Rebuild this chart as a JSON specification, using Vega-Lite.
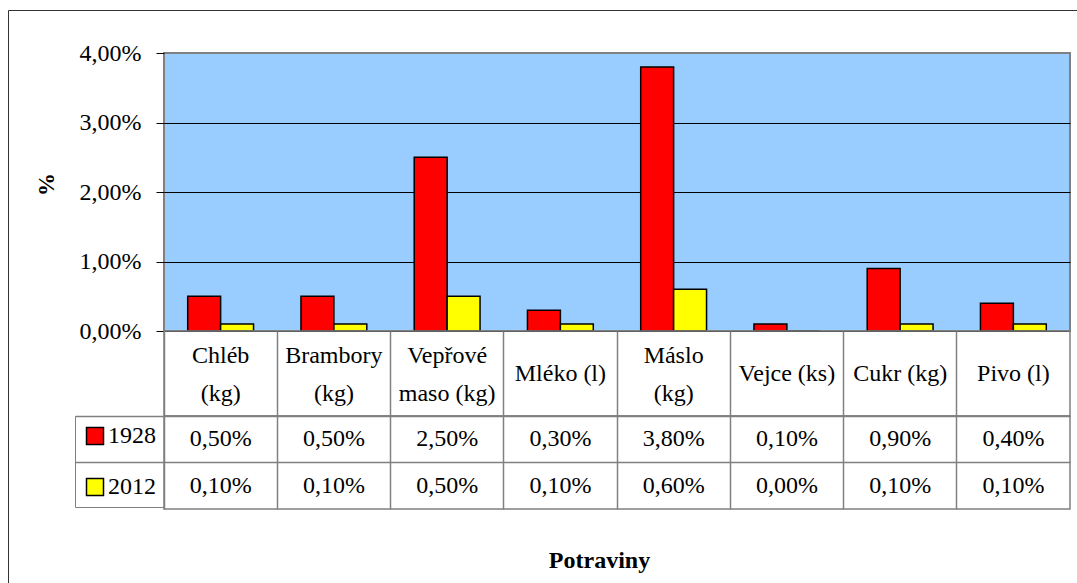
{
  "$schema": "https://vega.github.io/schema/vega-lite/v6.json",
  "background": "white",
  "autosize": {"type": "none"},
  "padding": {"left": 164, "top": 53, "right": 908, "bottom": 530},
  "bounds": "flush",
  "spacing": 0,
  "config": {
    "locale": {"number": {"decimal": ",", "thousands": " ", "grouping": [3], "currency": ["", " Kč"]}},
    "font": "Times New Roman, Liberation Serif, serif",
    "text": {"font": "Times New Roman, Liberation Serif, serif"},
    "view": {"stroke": "#808080", "strokeWidth": 1.5},
    "axis": {"labelColor": "black", "titleColor": "black", "labelFont": "Times New Roman, Liberation Serif, serif", "titleFont": "Times New Roman, Liberation Serif, serif"},
    "legend": {"labelFont": "Times New Roman, Liberation Serif, serif"}
  },
  "resolve": {"scale": {"x": "independent", "y": "independent", "fill": "independent"}, "legend": {"fill": "independent"}},
  "datasets": {
    "d": [
      {"cat": "Chléb (kg)", "year": "1928", "value": 0.005},
      {"cat": "Chléb (kg)", "year": "2012", "value": 0.001},
      {"cat": "Brambory (kg)", "year": "1928", "value": 0.005},
      {"cat": "Brambory (kg)", "year": "2012", "value": 0.001},
      {"cat": "Vepřové maso (kg)", "year": "1928", "value": 0.025},
      {"cat": "Vepřové maso (kg)", "year": "2012", "value": 0.005},
      {"cat": "Mléko (l)", "year": "1928", "value": 0.003},
      {"cat": "Mléko (l)", "year": "2012", "value": 0.001},
      {"cat": "Máslo (kg)", "year": "1928", "value": 0.038},
      {"cat": "Máslo (kg)", "year": "2012", "value": 0.006},
      {"cat": "Vejce (ks)", "year": "1928", "value": 0.001},
      {"cat": "Vejce (ks)", "year": "2012", "value": 0.0},
      {"cat": "Cukr (kg)", "year": "1928", "value": 0.009},
      {"cat": "Cukr (kg)", "year": "2012", "value": 0.001},
      {"cat": "Pivo (l)", "year": "1928", "value": 0.004},
      {"cat": "Pivo (l)", "year": "2012", "value": 0.001}
    ],
    "h": [
      {"cat": "Chléb (kg)", "label": "Chléb\n(kg)"},
      {"cat": "Brambory (kg)", "label": "Brambory\n(kg)"},
      {"cat": "Vepřové maso (kg)", "label": "Vepřové\nmaso (kg)"},
      {"cat": "Mléko (l)", "label": "Mléko (l)"},
      {"cat": "Máslo (kg)", "label": "Máslo\n(kg)"},
      {"cat": "Vejce (ks)", "label": "Vejce (ks)"},
      {"cat": "Cukr (kg)", "label": "Cukr (kg)"},
      {"cat": "Pivo (l)", "label": "Pivo (l)"}
    ]
  },
  "vconcat": [
    {
      "width": 906,
      "height": 278,
      "data": {"name": "d"},
      "view": {"fill": "#99CCFF", "stroke": "#808080", "strokeWidth": 2},
      "mark": {"type": "bar", "stroke": "black", "strokeWidth": 1.5},
      "encoding": {
        "x": {"field": "cat", "type": "nominal", "sort": null,
              "scale": {"type": "band", "domain": ["Chléb (kg)", "Brambory (kg)", "Vepřové maso (kg)", "Mléko (l)", "Máslo (kg)", "Vejce (ks)", "Cukr (kg)", "Pivo (l)"], "paddingInner": 0, "paddingOuter": 0}, "axis": null},
        "xOffset": {"field": "year", "type": "nominal", "scale": {"paddingOuter": 0.72, "paddingInner": 0}},
        "y": {
          "field": "value", "type": "quantitative",
          "scale": {"domain": [0, 0.04], "nice": false},
          "axis": {
            "values": [0, 0.01, 0.02, 0.03, 0.04],
            "format": ".2%",
            "title": "%",
            "titleFontSize": 23,
            "titleFontWeight": "bold",
            "titleX": -118,
            "titleY": 131,
            "titleBaseline": "middle",
            "titleAlign": "center",
            "labelFontSize": 24,
            "labelPadding": 15,
            "tickSize": 8,
            "tickColor": "black",
            "domain": false,
            "grid": true,
            "gridColor": {"condition": {"test": "datum.value >= 0.04", "value": "#808080"}, "value": "black"},
            "gridWidth": 1
          }
        },
        "fill": {"field": "year", "type": "nominal", "scale": {"domain": ["1928", "2012"], "range": ["#FF0000", "#FFFF00"]}, "legend": null},
        "strokeDash": {
          "datum": "rámeček", "type": "nominal",
          "scale": {"range": [[1, 0]]},
          "legend": {
            "orient": "none", "legendX": -156, "legendY": -43, "title": null,
            "padding": 900, "strokeColor": "#333333",
            "symbolOpacity": 0, "labelOpacity": 0, "symbolSize": 1, "labelFontSize": 1, "labelExpr": "''"
          }
        }
      }
    },
    {
      "width": 906,
      "height": 85,
      "data": {"name": "h"},
      "encoding": {
        "x": {"field": "cat", "type": "nominal", "sort": null,
              "scale": {"type": "band", "domain": ["Chléb (kg)", "Brambory (kg)", "Vepřové maso (kg)", "Mléko (l)", "Máslo (kg)", "Vejce (ks)", "Cukr (kg)", "Pivo (l)"], "paddingInner": 0, "paddingOuter": 0},
              "axis": {"title": null, "labels": false, "ticks": false, "domain": false, "grid": true, "bandPosition": 0, "gridColor": "#808080", "gridWidth": 1.5}},
        "text": {"field": "label"}
      },
      "layer": [
        {
          "transform": [{"filter": "indexof(datum.label, '\\n') >= 0"}],
          "mark": {"type": "text", "fontSize": 24, "lineBreak": "\n", "lineHeight": 38, "dy": -18, "color": "black"}
        },
        {
          "transform": [{"filter": "indexof(datum.label, '\\n') < 0"}],
          "mark": {"type": "text", "fontSize": 24, "color": "black"}
        }
      ]
    },
    {
      "width": 906,
      "height": 93,
      "data": {"name": "d"},
      "encoding": {
        "x": {"field": "cat", "type": "nominal", "sort": null,
              "scale": {"type": "band", "domain": ["Chléb (kg)", "Brambory (kg)", "Vepřové maso (kg)", "Mléko (l)", "Máslo (kg)", "Vejce (ks)", "Cukr (kg)", "Pivo (l)"], "paddingInner": 0, "paddingOuter": 0},
              "axis": {"title": "Potraviny", "titleFontSize": 24, "titleFontWeight": "bold", "titleX": 435, "titleY": 51, "titleBaseline": "middle", "titleAlign": "center", "labels": false, "ticks": false, "domain": false, "grid": true, "bandPosition": 0, "gridColor": "#808080", "gridWidth": 1.5}},
        "y": {"field": "year", "type": "nominal",
              "scale": {"type": "band", "domain": ["1928", "2012"], "paddingInner": 0, "paddingOuter": 0},
              "axis": {"title": null, "labels": false, "ticks": true, "tickSize": 89, "tickColor": "#808080", "tickWidth": 1.5, "domain": false, "grid": true, "bandPosition": 0, "gridColor": "#808080", "gridWidth": 1.5}}
      },
      "layer": [
        {
          "mark": {"type": "text", "fontSize": 24, "color": "black"},
          "encoding": {
            "text": {"field": "value", "type": "quantitative", "format": ".2%"}
          }
        },
        {
          "mark": {"type": "square", "opacity": 0, "stroke": "black"},
          "encoding": {
            "fill": {
              "field": "year", "type": "nominal",
              "scale": {"domain": ["1928", "2012"], "range": ["#FF0000", "#FFFF00"]},
              "legend": {
                "orient": "none", "legendX": -89, "legendY": 0, "title": null,
                "symbolType": "square", "symbolSize": 289, "symbolStrokeColor": "black", "symbolStrokeWidth": 1.5,
                "symbolOpacity": 1, "labelFontSize": 24, "labelColor": "black", "labelOffset": 1,
                "padding": 8, "rowPadding": 27, "strokeColor": "#808080"
              }
            }
          }
        }
      ]
    }
  ]
}
